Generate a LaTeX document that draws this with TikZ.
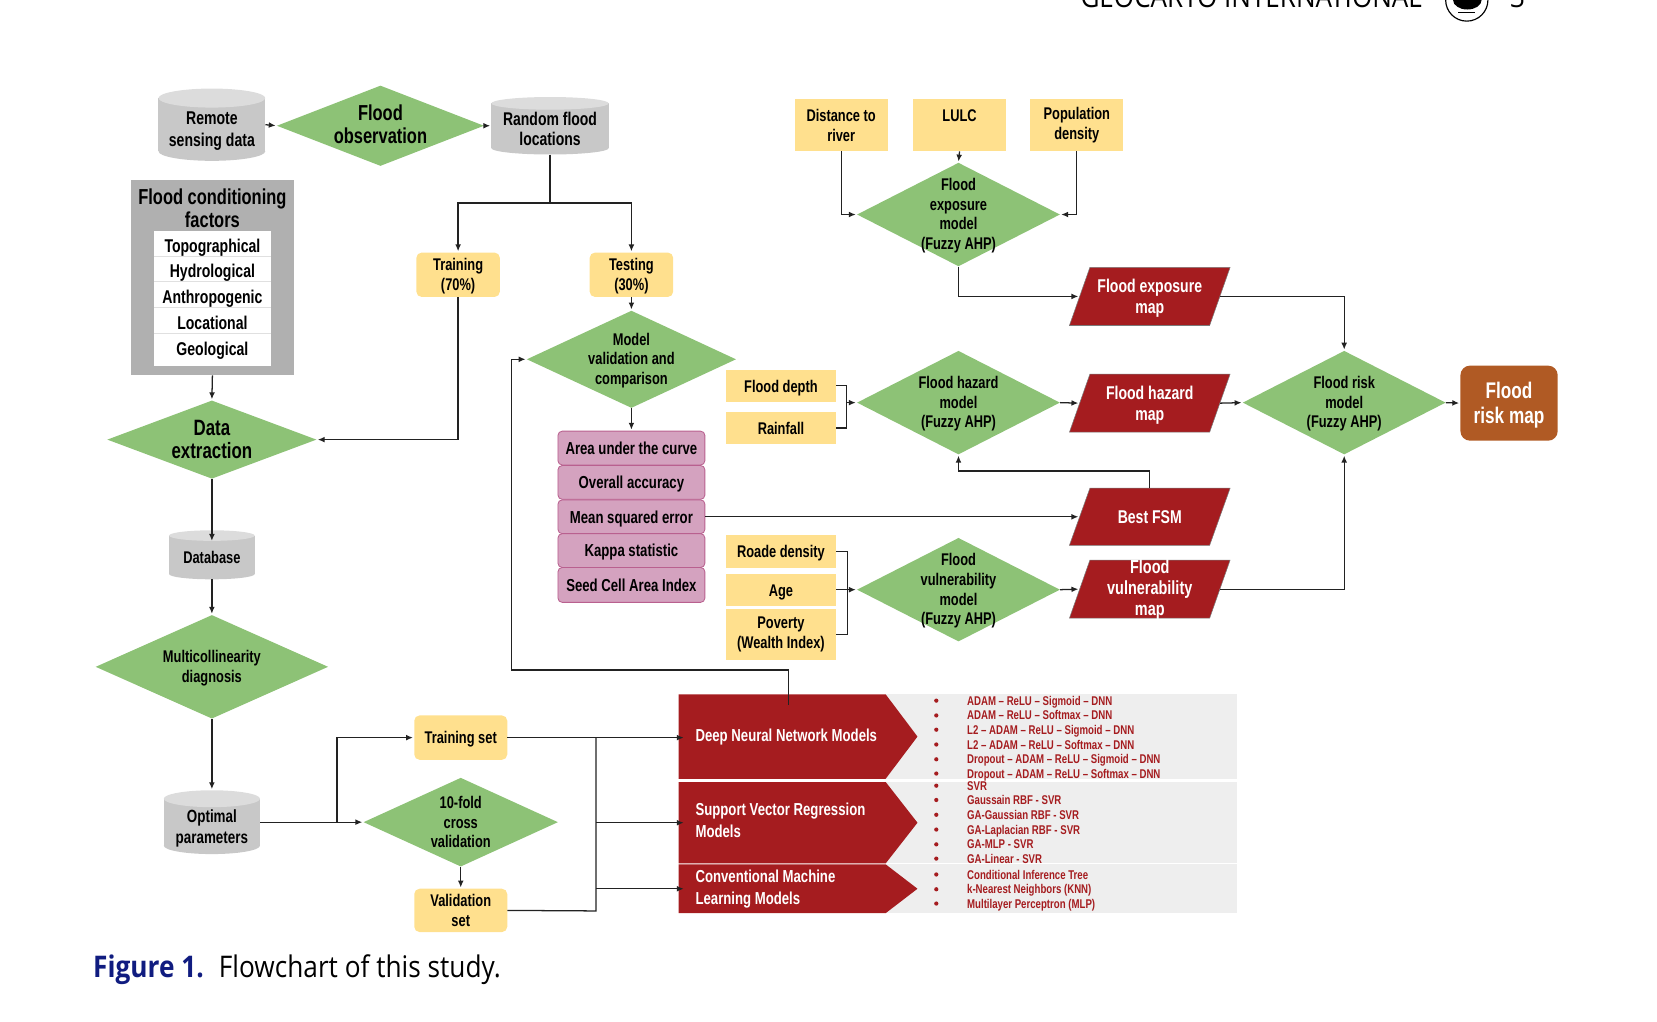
\documentclass[tikz,border=0pt]{standalone}
\usepackage{fontspec}
\setmainfont{Liberation Sans}
\newfontfamily\cond[FakeStretch=0.76]{Liberation Sans}
\newfontfamily\capt[FakeStretch=0.88]{Open Sans}
\usetikzlibrary{arrows.meta,shapes.geometric,shapes.symbols,calc}
\definecolor{cgreen}{HTML}{8DC276}
\definecolor{cyellow}{HTML}{FFE08E}
\definecolor{cred}{HTML}{A51C1F}
\definecolor{cgrey}{HTML}{B0B0B0}
\definecolor{ccyl}{HTML}{C8C8C8}
\definecolor{ccyltop}{HTML}{DCDCDC}
\definecolor{cpink}{HTML}{D4A2BF}
\definecolor{cpinkd}{HTML}{B9608F}
\definecolor{cbrown}{HTML}{B05A24}
\definecolor{cband}{HTML}{EEEEEE}
\definecolor{cline}{HTML}{222222}
\definecolor{cblue}{HTML}{101C80}
\newcommand{\fsz}[2]{\cond\bfseries\fontsize{#1}{#2}\selectfont}
\newcommand{\cylnode}[6]{%
  \node[rectangle,inner sep=0pt,minimum width=#4pt,minimum height=#5pt] (#1) at (#2,#3) {};
  \fill[ccyl] ($(#1.south)+(0,-#6)$) ellipse [x radius=#4/2,y radius=#6];
  \fill[ccyl] ($(#1.north west)+(0,#6)$) rectangle ($(#1.south east)+(0,-#6)$);
  \fill[ccyltop] ($(#1.north)+(0,#6)$) ellipse [x radius=#4/2,y radius=#6];
}
\tikzset{
  txt/.style={font=\fsz{16}{18.5},align=center,inner sep=0pt,text=black},
  single/.style={txt,text height=14pt,text depth=2pt},
  bigtxt/.style={txt,font=\fsz{20.5}{22}},
  whitetxt/.style={txt,text=white,font=\fsz{17.5}{20},yshift=-2pt},
  dlab/.style={txt,yshift=-1.2pt},
  dia/.style={diamond,fill=cgreen,inner sep=0pt,minimum width=#1},
  ybox/.style={rectangle,fill=cyellow,inner sep=0pt},
  yround/.style={ybox,rounded corners=5pt},
  pinkbox/.style={rectangle,rounded corners=4pt,fill=cpink,draw=cpinkd,line width=.8pt,inner sep=0pt,minimum width=139pt,single,font=\fsz{16.4}{18.5}},
  para/.style={trapezium,trapezium left angle=80.3,trapezium right angle=99.7,trapezium stretches=true,
     fill=cred,draw=cline!60,line width=.5pt,inner sep=1pt,minimum width=152pt,minimum height=55pt},
  band/.style={signal,signal to=east,fill=cred,inner sep=0pt,minimum width=226pt,anchor=west},
  bandtxt/.style={txt,text=white,font=\fsz{16.4}{21},anchor=west,xshift=16pt,align=left},
  listtxt/.style={font=\fsz{12}{13},text=cred,inner sep=0pt,anchor=base west},
  dot/.style={circle,fill=cred,inner sep=0pt,minimum size=4pt},
  wire/.style={draw=cline,line width=1.2pt},
  arr/.style={wire,-{Latex[length=6.5pt,width=5.5pt]},shorten >=1pt},
  arrin/.style={arr,shorten >=-5pt},
}
\begin{document}
\begin{tikzpicture}[x=1pt,y=-1pt]
\useasboundingbox (0,0) rectangle (1568,966.2);
\clip (0,0) rectangle (1568,966.2);
% header
\node[font=\capt\fontsize{28}{30}\selectfont,inner sep=0pt,anchor=center] (hdr) at (1184,-3) {GEOCARTO INTERNATIONAL};
\node[font=\capt\fontsize{28}{30}\selectfont,inner sep=0pt] (pg) at (1436,-3) {3};
\draw[line width=1.1pt] (1388,0) ellipse (20pt and 20pt);
\fill (1375,0) -- (1402,0) arc (0:-180:13.5pt and 9pt) -- cycle;
\fill (1380,11) rectangle (1396,12.5);
% cylinders
\cylnode{remote}{200.5}{118}{101}{68}{9}
\node[txt,font=\fsz{17.5}{20}] (remotet) at (200.5,124) {Remote\\sensing data};
\cylnode{rand}{520.5}{119}{111}{54}{6}
\node[txt,font=\fsz{17.4}{19.5}] (randt) at (520.5,122) {Random flood\\locations};
\cylnode{db}{200.5}{525}{81}{46}{5}
\node[single] (dbt) at (200.5,527) {Database};
\cylnode{opt}{200.5}{778}{91}{60}{8}
\node[txt,font=\fsz{16.7}{19.5}] (optt) at (200.5,784) {Optimal\\parameters};
% diamonds
\node[dia=196pt,minimum height=76pt,label={[bigtxt,yshift=1.5pt]center:Flood\\observation}] (obs) at (360,119) {};
\node[dia=198pt,minimum height=74pt,label={[bigtxt,yshift=0pt,font=\fsz{21}{22}]center:Data\\extraction}] (extract) at (200.5,416) {};
\node[dia=220pt,minimum height=98pt,label={[dlab]center:Multicollinearity\\diagnosis}] (multi) at (200.5,631) {};
\node[dia=198pt,minimum height=92pt,label={[dlab]center:Model\\validation and\\comparison}] (model) at (597.5,340) {};
\node[dia=184pt,minimum height=84pt,label={[txt]center:10-fold\\cross\\validation}] (fold) at (436,778) {};
\node[dia=192pt,minimum height=98pt,label={[dlab]center:Flood\\exposure\\model\\(Fuzzy AHP)}] (expo) at (907,203) {};
\node[dia=192pt,minimum height=98pt,label={[dlab]center:Flood hazard\\model\\(Fuzzy AHP)}] (haz) at (907,381) {};
\node[dia=192pt,minimum height=98pt,label={[dlab]center:Flood\\vulnerability\\model\\(Fuzzy AHP)}] (vuln) at (907,558) {};
\node[dia=192pt,minimum height=98pt,label={[dlab]center:Flood risk\\model\\(Fuzzy AHP)}] (risk) at (1272,381) {};
% grey factors box
\node[rectangle,fill=cgrey,inner sep=0pt,minimum width=154pt,minimum height=185pt] (factors) at (201,262.5) {};
\node[txt,font=\fsz{20.5}{22}] (factorst) at (201,197) {Flood conditioning\\factors};
\fill[black!12] (146,219) rectangle (256,346);
\foreach \nm/\yc/\hh/\yt/\tt in {f1/230.5/23/233/Topographical,f2/254.5/23/257/Hydrological,f3/279/23.5/281/Anthropogenic,f4/303.5/23.5/306/Locational,f5/331/30/330/Geological} {
  \node[rectangle,fill=white,inner sep=0pt,minimum width=110pt,minimum height=\hh pt] (\nm) at (201,\yc) {};
  \node[single,font=\fsz{17.5}{19}] (\nm t) at (201,\yt) {\tt};
}
% yellow boxes
\node[yround,minimum width=79pt,minimum height=42pt,txt,text depth=.5pt] (train) at (433.5,260) {Training\\(70\%)};
\node[yround,minimum width=79pt,minimum height=42pt,txt,text depth=.5pt] (test) at (597.5,260) {Testing\\(30\%)};
\node[yround,minimum width=88pt,minimum height=42pt,single] (trainset) at (436,698) {Training set};
\node[yround,minimum width=88pt,minimum height=41pt,txt] (valset) at (436,861.5) {Validation\\set};
\node[ybox,minimum width=88pt,minimum height=49pt,txt] (dist) at (796,118.5) {Distance to\\river};
\node[ybox,minimum width=88pt,minimum height=49pt] (lulc) at (908,118.5) {};
\node[single] (lulct) at (908,108.5) {LULC};
\node[ybox,minimum width=88pt,minimum height=49pt,txt] (popu) at (1019,118.5) {Population\\density};
\node[ybox,minimum width=104pt,minimum height=30pt,single] (depth) at (739,365) {Flood depth};
\node[ybox,minimum width=104pt,minimum height=30pt,single] (rain) at (739,405) {Rainfall};
\node[ybox,minimum width=104pt,minimum height=31pt,single] (road) at (739,522) {Roade density};
\node[ybox,minimum width=104pt,minimum height=30pt,single] (age) at (739,558) {Age};
\node[ybox,minimum width=104pt,minimum height=49pt,txt] (pov) at (739,600.5) {Poverty\\(Wealth Index)};
% pink list
\node[pinkbox,minimum height=32pt] (auc) at (597.5,424) {Area under the curve};
\node[pinkbox,minimum height=32pt] (oa) at (597.5,456.5) {Overall accuracy};
\node[pinkbox,minimum height=32pt] (mse) at (597.5,489) {Mean squared error};
\node[pinkbox,minimum height=32pt] (kappa) at (597.5,521) {Kappa statistic};
\node[pinkbox,minimum height=33pt] (seed) at (597.5,553.5) {Seed Cell Area Index};
% red maps
\node[para,label={[whitetxt]center:Flood exposure\\map}] (mexpo) at (1088,280.5) {};
\node[para,label={[whitetxt]center:Flood hazard\\map}] (mhaz) at (1088,381.5) {};
\node[para,minimum height=54pt,label={[whitetxt,yshift=2pt]center:Best FSM}] (fsm) at (1088,489) {};
\node[para,label={[whitetxt,font=\fsz{18}{20},yshift=1.5pt]center:Flood\\vulnerability\\map}] (mvuln) at (1088,557.5) {};
\node[rectangle,rounded corners=9pt,fill=cbrown,inner sep=0pt,minimum width=92pt,minimum height=71pt,txt,text depth=.5pt,font=\fsz{21.4}{23},text=white] (rmap) at (1428,381.5) {Flood\\risk map};
% model bands
\fill[cband] (838,657) rectangle (1171,737);
\fill[cband] (838,740) rectangle (1171,817);
\fill[cband] (838,818) rectangle (1171,864);
\node[band,minimum height=80pt,signal pointer angle=106,label={[bandtxt]west:Deep Neural Network Models}] (dnn) at (642,697) {};
\node[band,minimum height=77pt,signal pointer angle=104,label={[bandtxt,yshift=2pt]west:Support Vector Regression\\Models}] (svr) at (642,778.5) {};
\node[band,minimum height=46pt,signal pointer angle=75,label={[bandtxt]west:Conventional Machine\\Learning Models}] (cml) at (642,841) {};
\foreach \i/\yy/\tt in {1/663/ADAM – ReLU – Sigmoid – DNN,2/677/ADAM – ReLU – Softmax – DNN,3/690.5/L2 – ADAM – ReLU – Sigmoid – DNN,4/704.5/L2 – ADAM – ReLU – Softmax – DNN,5/718.5/Dropout – ADAM – ReLU – Sigmoid – DNN,6/732/Dropout – ADAM – ReLU – Softmax – DNN,7/743.5/SVR,8/757/Gaussain RBF - SVR,9/771/GA-Gaussian RBF - SVR,10/785/GA-Laplacian RBF - SVR,11/799/GA-MLP - SVR,12/812.5/GA-Linear - SVR,13/827.5/Conditional Inference Tree,14/841.5/k-Nearest Neighbors (KNN),15/855/Multilayer Perceptron (MLP)} {
  \node[dot] (b\i) at (886,\yy) {};
  \node[listtxt] (l\i) at (915,\yy+4.3) {\tt};
}
% caption
\node[font=\capt\bfseries\fontsize{28.2}{30}\selectfont,text=cblue,inner sep=0pt,anchor=base west] (figlab) at (88,925) {Figure 1.};
\node[font=\capt\fontsize{28.2}{30}\selectfont,inner sep=0pt,anchor=base west] (figcap) at (207,925) {Flowchart of this study.};
% connectors
\draw[arr] (remote.east) -- (obs.west);
\draw[arr] (obs.east) -- (rand.west);
\draw[wire] (rand.south) -- ++(0,46) coordinate (split);
\draw[arr] (split) -| (train.north);
\draw[arr] (split) -| (test.north);
\draw[arr] (train.south) |- (extract.east);
\draw[arr] (test.south) -- (model.north);
\draw[arr] (model.south) -- (auc.north);
\draw[arr] (factors.south) -- (extract.north);
\draw[arr] (extract.south) -- ($(db.north)+(0,11)$);
\draw[arr] (db.south) -- (multi.north);
\draw[arr] (multi.south) -- (opt.north);
\draw[arr] (opt.east) -- (fold.west);
\coordinate (branch) at (319,778);
\draw[arr] (branch) |- (trainset.west);
\draw[arr] (fold.south) -- (valset.north);
\draw[arrin] (trainset.east) -- (trainset.east -| dnn.west);
\coordinate (busT) at (564,698);
\coordinate (busV) at (564,862);
\draw[wire] (valset.east) -- (busV) -- (busT);
\draw[arrin] (busV |- svr.west) -- (svr.west);
\draw[arrin] (busV |- cml.west) -- (cml.west);
\coordinate (deeptop) at (746,667);
\coordinate (deepelbow) at (484,634);
\draw[arr] (deeptop) |- (deepelbow) |- (model.west);
\draw[arr] (mse.east) -- (mse.east -| fsm.west);
\draw[arr] (fsm.north) -- ++(0,-16) -| (haz.south);
\draw[arr] (dist.south) |- (expo.west);
\draw[arr] (lulc.south) -- (expo.north);
\draw[arr] (popu.south) |- (expo.east);
\draw[arr] (expo.south) |- (mexpo.west);
\draw[arr] (mexpo.east) -| (risk.north);
\draw[wire] (depth.east) -- ++(10,0) coordinate (dtop) -- (dtop |- rain.east) -- (rain.east);
\draw[arr] (dtop |- haz.west) -- (haz.west);
\draw[arr] (haz.east) -- (mhaz.west);
\draw[arr] (mhaz.east) -- (risk.west);
\draw[arr] (risk.east) -- (rmap.west);
\draw[wire] (road.east) -- ++(11,0) coordinate (rtop) -- (rtop |- pov.east) -- (pov.east);
\draw[arr] (age.east) -- (vuln.west);
\draw[arr] (vuln.east) -- (mvuln.west);
\draw[arr] (mvuln.east) -| (risk.south);
\end{tikzpicture}
\end{document}
